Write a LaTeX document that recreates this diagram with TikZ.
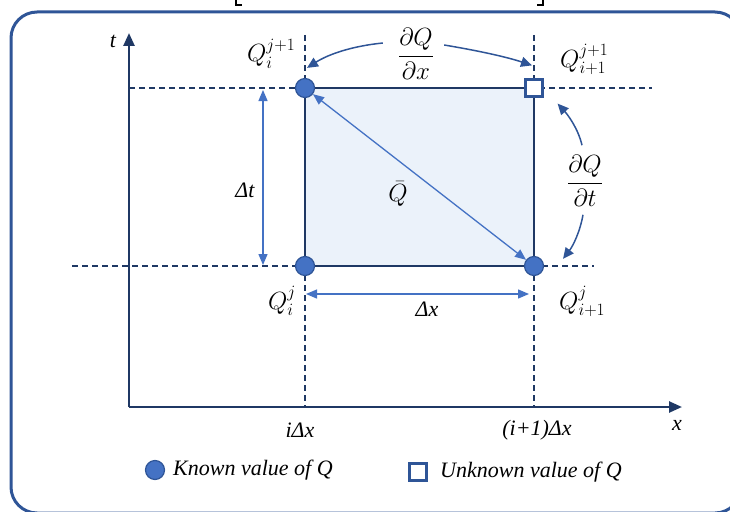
\documentclass[tikz,border=0pt]{standalone}
\usepackage{amsmath}
\usepackage{fontspec}
\setmainfont{Liberation Serif}
\usetikzlibrary{arrows.meta,calc}
\definecolor{axisnavy}{HTML}{1F3864}
\definecolor{arrowblue}{HTML}{2F5597}
\definecolor{pointblue}{HTML}{4472C4}
\definecolor{cellblue}{HTML}{EBF2FA}

\begin{document}
\begin{tikzpicture}[x=1pt,y=-1pt,
    gridline/.style={axisnavy, line width=1.4pt, dash pattern=on 6pt off 4pt},
    known/.style={circle, draw=arrowblue, fill=pointblue, line width=1.2pt, minimum size=19pt, inner sep=0pt},
    unknown/.style={rectangle, draw=arrowblue, fill=white, line width=2.2pt, minimum size=17pt, inner sep=0pt},
    mathlab/.style={font=\fontsize{25}{29}\selectfont, inner sep=0pt},
    txtlab/.style={font=\fontsize{22}{26}\selectfont\itshape, inner sep=0pt},
    bendarrow/.style={arrowblue, line width=1.5pt, -{Triangle[length=11pt,width=10pt]}},
    dimarrow/.style={pointblue, line width=1.3pt, {Triangle[length=11pt,width=9pt]}-{Triangle[length=11pt,width=9pt]}}]

    \useasboundingbox (0,0) rectangle (730,511);
    \clip (0,0) rectangle (730,511);

    % --- Cadre ---
    \draw[arrowblue, line width=3pt, rounded corners=26pt] (11,12) rectangle (741,513);
    \draw[line width=1.5pt] (236,-2) -- (236,5) -- (242,5);
    \draw[line width=1.5pt] (543,-2) -- (543,5) -- (537,5);

    % --- Sommets de la cellule ---
    \coordinate (A) at (305,266);
    \coordinate (B) at (534,266);
    \coordinate (C) at (534,88);
    \coordinate (D) at (305,88);
    \fill[cellblue] (A) rectangle (C);

    % --- Lignes de grille ---
    \draw[gridline] (129,88) -- (652,88);
    \draw[gridline] (72,266) -- (594,266);
    \draw[gridline] (305,35) -- (305,407);
    \draw[gridline] (534,35) -- (534,407);
    \draw[axisnavy, line width=2pt] (A) rectangle (C);

    % --- Axes ---
    \coordinate (O) at (129,407);
    \coordinate (Tend) at (129,33);
    \coordinate (Xend) at (682,407);
    \draw[axisnavy, line width=2.5pt, -{Triangle[length=13pt,width=11pt]}] (O) -- (Tend);
    \draw[axisnavy, line width=2.5pt, -{Triangle[length=13pt,width=11pt]}] (O) -- (Xend);
    \node[txtlab] (tlab) at (113,41) {t};
    \node[txtlab] (xlab) at (677,425) {x};
    \node[txtlab] (tickI) at (300,430) {iΔx};
    \node[txtlab] (tickII) at (537,430) {(i+1)Δx};

    % --- Points ---
    \foreach \n/\p in {Pij/A, Pi1j/B, Pij1/D}
        \node[known] (\n) at (\p) {};
    \node[unknown] (Pi1j1) at (C) {};

    % --- Etiquettes des points ---
    \node[mathlab, anchor=base west] (labPij1) at (247,62) {$Q_i^{j+1}$};
    \node[mathlab, anchor=base west] (labPi1j1) at (560,67) {$Q_{i+1}^{j+1}$};
    \node[mathlab, anchor=base west] (labPij) at (268,309) {$Q_i^j$};
    \node[mathlab, anchor=base west] (labPi1j) at (559,309) {$Q_{i+1}^j$};

    % --- Derivees ---
    \node[mathlab] (dQdx) at (416,54) {$\dfrac{\partial Q}{\partial x}$};
    \node[mathlab] (dQdt) at (585,181) {$\dfrac{\partial Q}{\partial t}$};
    \draw[bendarrow] ([xshift=-15pt,yshift=11pt]dQdx.west) .. controls +(-30,3) and +(22,-14) .. ([xshift=2pt,yshift=10pt]Pij1.north);
    \draw[bendarrow] ([xshift=10pt,yshift=9pt]dQdx.east) .. controls +(30,5) and +(-27,-9) .. ([xshift=-2pt,yshift=13pt]Pi1j1.north);
    \draw[bendarrow] ([xshift=-3pt,yshift=10pt]dQdt.north) .. controls +(-4,-17) and +(10,11) .. ([xshift=14pt,yshift=-6pt]Pi1j1.south east);
    \draw[bendarrow] ([xshift=-2pt,yshift=-8pt]dQdt.south) .. controls +(-3,17) and +(10,-13) .. ([xshift=29pt,yshift=-3pt]Pi1j.north);

    % --- Pas et moyenne ---
    \draw[dimarrow] (Pi1j) -- (Pij1);
    \node[mathlab] (Qbar) at (398,194) {$\bar{Q}$};
    \coordinate (dtTop) at (263,90);
    \coordinate (dtBot) at (263,265);
    \draw[dimarrow] (dtTop) -- (dtBot);
    \node[txtlab] (dtlab) at (245,190) {Δt};
    \coordinate (dxLeft) at (306,294);
    \coordinate (dxRight) at (529,294);
    \draw[dimarrow] (dxLeft) -- (dxRight);
    \node[txtlab] (dxlab) at (427,309) {Δx};

    % --- Legende ---
    \node[known] (keyKnown) at (155,470) {};
    \node[txtlab, anchor=west] (txtKnown) at (173,470) {Known value of Q};
    \node[unknown] (keyUnknown) at (418,472) {};
    \node[txtlab, anchor=west] (txtUnknown) at (440,472) {Unknown value of Q};

\end{tikzpicture}
\end{document}
